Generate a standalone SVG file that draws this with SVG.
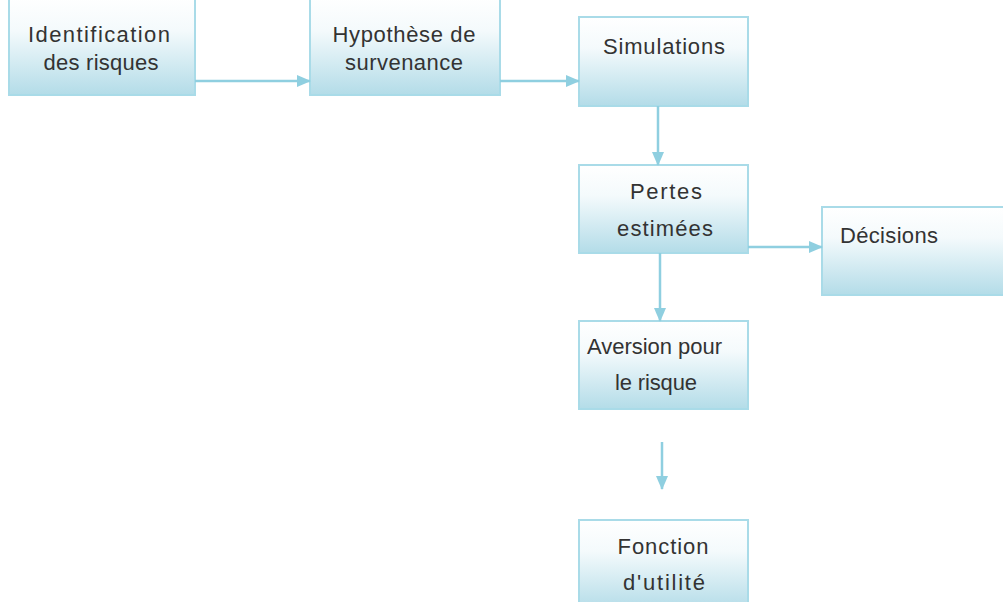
<svg xmlns="http://www.w3.org/2000/svg" width="1003" height="602" viewBox="0 0 1003 602">
<defs>
<linearGradient id="g" x1="0" y1="0" x2="0" y2="1">
<stop offset="0" stop-color="#ffffff"/>
<stop offset="0.35" stop-color="#f4fafc"/>
<stop offset="1" stop-color="#b3dce8"/>
</linearGradient>
<marker id="ah" markerWidth="14" markerHeight="14" refX="13" refY="7" orient="auto" markerUnits="userSpaceOnUse">
<path d="M0,1 L14,7 L0,13 Z" fill="#8fcfe0"/>
</marker>
</defs>
<style>
.box{fill:url(#g);stroke:#a9dbe8;stroke-width:2}
.t{font-family:"Liberation Sans",Arial,sans-serif;font-size:22px;fill:#333}
.c{text-anchor:middle}
.con line{stroke:#8fcfe0;stroke-width:2.5;marker-end:url(#ah)}
</style>
<rect width="1003" height="602" fill="#fff"/>
<g id="identification">
<rect class="box" x="9" y="-4" width="186" height="99"/>
<text class="t c" x="99" y="42" textLength="142" lengthAdjust="spacing">Identification</text>
<text class="t c" x="101" y="70" textLength="115" lengthAdjust="spacing">des risques</text>
</g>
<g id="hypothese">
<rect class="box" x="310" y="-4" width="190" height="99"/>
<text class="t c" x="404" y="42" textLength="143" lengthAdjust="spacing">Hypothèse de</text>
<text class="t c" x="404" y="70" textLength="118" lengthAdjust="spacing">survenance</text>
</g>
<g id="simulations">
<rect class="box" x="579" y="17" width="169" height="89"/>
<text class="t c" x="664" y="54" textLength="122" lengthAdjust="spacing">Simulations</text>
</g>
<g id="pertes">
<rect class="box" x="579" y="165" width="169" height="88"/>
<text class="t c" x="666" y="199" textLength="72" lengthAdjust="spacing">Pertes</text>
<text class="t c" x="665" y="236" textLength="96" lengthAdjust="spacing">estimées</text>
</g>
<g id="decisions">
<rect class="box" x="822" y="207" width="190" height="88"/>
<text class="t" x="840" y="243" textLength="98" lengthAdjust="spacing">Décisions</text>
</g>
<g id="aversion">
<rect class="box" x="579" y="321" width="169" height="88"/>
<text class="t" x="587" y="354" textLength="135" lengthAdjust="spacing">Aversion pour</text>
<text class="t c" x="656" y="390" textLength="82" lengthAdjust="spacing">le risque</text>
</g>
<g id="fonction">
<rect class="box" x="579" y="520" width="169" height="90"/>
<text class="t c" x="663" y="554" textLength="91" lengthAdjust="spacing">Fonction</text>
<text class="t c" x="664" y="590" textLength="82" lengthAdjust="spacing">d'utilité</text>
</g>
<g id="connectors" class="con">
<line x1="195" y1="81" x2="310" y2="81"/>
<line x1="500" y1="81" x2="579" y2="81"/>
<line x1="658" y1="106" x2="658" y2="165"/>
<line x1="748" y1="247" x2="822" y2="247"/>
<line x1="660" y1="253" x2="660" y2="321"/>
<line x1="662" y1="442" x2="662" y2="489"/>
</g>
</svg>
